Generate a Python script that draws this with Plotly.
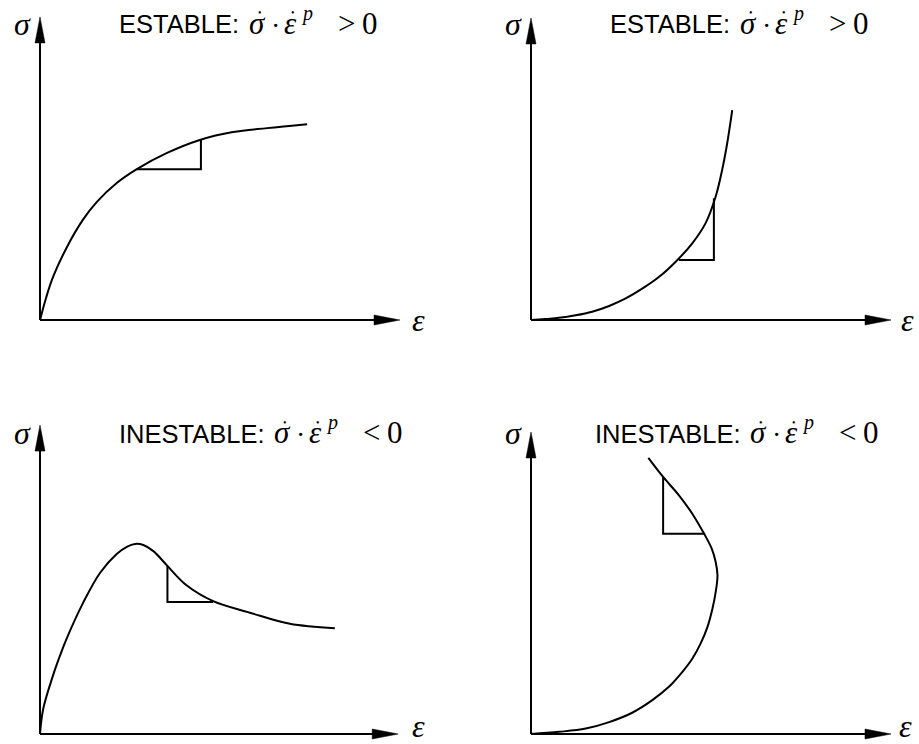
import plotly.graph_objects as go

# --- curve data (strain, stress) in diagram units ---
# top-left: stable hardening, concave
eps_a = [0.0, 0.17, 0.36, 0.75, 1.19, 1.58, 2.14, 2.69, 3.53, 4.44, 5.36, 6.31, 7.42]
sig_a = [0.0, 0.62, 1.19, 2.03, 2.78, 3.28, 3.81, 4.19, 4.64, 5.00, 5.22, 5.33, 5.44]
tri_a_eps = [2.69, 4.47, 4.47]
tri_a_sig = [4.19, 4.19, 5.03]

# top-right: stable hardening, convex
eps_b = [0.0, 0.41, 0.78, 1.24, 1.70, 2.17, 2.63, 3.09, 3.56, 4.02, 4.48, 4.85, 5.13, 5.31, 5.45, 5.59]
sig_b = [0.0, 0.03, 0.06, 0.13, 0.23, 0.39, 0.60, 0.87, 1.20, 1.62, 2.13, 2.69, 3.43, 4.17, 4.91, 5.83]
tri_b_eps = [4.11, 5.08, 5.08]
tri_b_sig = [1.67, 1.67, 3.38]

# bottom-left: softening after the peak
eps_c = [0.0, 0.09, 0.37, 0.56, 0.74, 1.20, 1.67, 2.13, 2.41, 2.64, 2.87, 3.15, 3.52, 4.07, 4.81, 5.83, 6.94, 8.19]
sig_c = [0.0, 0.70, 1.65, 2.19, 2.65, 3.65, 4.48, 5.00, 5.20, 5.28, 5.25, 5.08, 4.69, 4.13, 3.69, 3.37, 3.06, 2.94]
tri_c_eps = [3.54, 3.54, 4.81]
tri_c_sig = [4.67, 3.67, 3.67]

# bottom-right: snap-back
eps_d = [0.0, 0.78, 1.52, 2.17, 2.81, 3.37, 3.83, 4.20, 4.48, 4.71, 4.90, 5.04, 5.13, 5.18,
         5.13, 5.02, 4.81, 4.48, 4.11, 3.67, 3.26]
sig_d = [0.0, 0.06, 0.15, 0.33, 0.59, 0.94, 1.31, 1.72, 2.09, 2.51, 2.97, 3.48, 3.94, 4.41,
         4.78, 5.15, 5.56, 6.12, 6.63, 7.14, 7.67]
tri_d_eps = [3.67, 3.67, 4.81]
tri_d_sig = [7.14, 5.56, 5.56]

titles = ["ESTABLE:", "ESTABLE:", "INESTABLE:", "INESTABLE:"]
relations = ["&gt;", "&gt;", "&lt;", "&lt;"]

panels = [
    (eps_a, sig_a, tri_a_eps, tri_a_sig),
    (eps_b, sig_b, tri_b_eps, tri_b_sig),
    (eps_c, sig_c, tri_c_eps, tri_c_sig),
    (eps_d, sig_d, tri_d_eps, tri_d_sig),
]

# axis arrow extents per panel (strain tip, stress tip)
eps_tip = [10.0, 10.0, 9.95, 10.0]
sig_tip = [8.42, 8.39, 8.58, 8.39]
# title anchor (left edge, centre line) per panel
title_pos = [(2.167, 8.21), (2.167, 8.21), (2.167, 8.34), (1.75, 8.34)]
# axis-symbol positions
sigma_lab = [(-0.49, 8.22), (-0.50, 8.22), (-0.49, 8.35), (-0.50, 8.35)]
eps_lab = [(10.51, 0.0), (10.45, 0.0), (10.51, 0.236), (10.40, 0.236)]

W, H = 919, 744
PX = 36.0  # pixels per diagram unit
origins = [(40, 320), (531, 320), (40, 734), (531, 734)]
xdoms = [(0, 0.5), (0.5, 1), (0, 0.5), (0.5, 1)]
ydoms = [(0.5, 1), (0.5, 1), (0, 0.5), (0, 0.5)]

SERIF = "Liberation Serif"
SANS = "Liberation Sans"
INK = "black"

fig = go.Figure()
layout = dict(
    width=W, height=H, margin=dict(l=0, r=0, t=0, b=0),
    paper_bgcolor="white", plot_bgcolor="rgba(0,0,0,0)",
    showlegend=False,
)
shapes = []
annotations = []


def note(xa, ya, x, y, text, size, family=SERIF, anchor="center"):
    annotations.append(dict(xref=xa, yref=ya, x=x, y=y, text=text, showarrow=False,
                            font=dict(family=family, size=size, color=INK),
                            xanchor=anchor, yanchor="middle", borderpad=0))


for i, (ex, sy, tx, ty) in enumerate(panels):
    k = "" if i == 0 else str(i + 1)
    xa, ya = "x" + k, "y" + k
    ox, oy = origins[i]
    xd, yd = xdoms[i], ydoms[i]
    px0, px1 = xd[0] * W, xd[1] * W
    py_top, py_bot = (1 - yd[1]) * H, (1 - yd[0]) * H
    layout["xaxis" + k] = dict(
        domain=list(xd), range=[(px0 - ox) / PX, (px1 - ox) / PX],
        visible=False, fixedrange=True, anchor=ya,
    )
    layout["yaxis" + k] = dict(
        domain=list(yd), range=[(oy - py_bot) / PX, (oy - py_top) / PX],
        visible=False, fixedrange=True, anchor=xa,
    )

    fig.add_trace(go.Scatter(x=ex, y=sy, mode="lines", xaxis=xa, yaxis=ya,
                             line=dict(color=INK, width=2, shape="spline", smoothing=1.0),
                             hoverinfo="skip"))
    fig.add_trace(go.Scatter(x=tx, y=ty, mode="lines", xaxis=xa, yaxis=ya,
                             line=dict(color=INK, width=2), hoverinfo="skip"))

    # axes with filled arrowheads
    hl, hw = 26 / PX, 5 / PX
    et, st = eps_tip[i], sig_tip[i]
    shapes.append(dict(type="line", xref=xa, yref=ya, x0=0, y0=0, x1=et - hl * 0.8, y1=0,
                       line=dict(color=INK, width=2)))
    shapes.append(dict(type="line", xref=xa, yref=ya, x0=0, y0=0, x1=0, y1=st - hl * 0.8,
                       line=dict(color=INK, width=2)))
    shapes.append(dict(type="path", xref=xa, yref=ya,
                       path=f"M{et},0 L{et - hl},{hw} L{et - hl},{-hw} Z",
                       fillcolor=INK, line=dict(color=INK, width=0.5)))
    shapes.append(dict(type="path", xref=xa, yref=ya,
                       path=f"M0,{st} L{hw},{st - hl} L{-hw},{st - hl} Z",
                       fillcolor=INK, line=dict(color=INK, width=0.5)))

    # axis symbols
    note(xa, ya, sigma_lab[i][0], sigma_lab[i][1], "<i>σ</i>", 32)
    note(xa, ya, eps_lab[i][0], eps_lab[i][1], "<i>ε</i>", 32)

    # stability criterion: label, then  σ̇ · ε̇^p  (>|<)  0
    lx, cy = title_pos[i]
    note(xa, ya, lx, cy, titles[i], 25.5, family=SANS, anchor="left")
    shift = 0 if titles[i] == "ESTABLE:" else 25

    def u(dx):
        return lx + (dx + shift) / PX

    def v(dy):
        return cy - dy / PX

    note(xa, ya, u(139), v(-1), "<i>σ</i>", 31)
    note(xa, ya, u(142), v(-11.5), "•", 10)    # dot over sigma
    note(xa, ya, u(157), v(1), "·", 28)        # product
    note(xa, ya, u(172), v(-1), "<i>ε</i>", 31)
    note(xa, ya, u(175), v(-11.5), "•", 10)    # dot over epsilon
    note(xa, ya, u(189), v(-11), "<i>p</i>", 20)
    note(xa, ya, u(228), v(-1), relations[i], 31)
    note(xa, ya, u(252), v(-1), "0", 31)

layout["shapes"] = shapes
layout["annotations"] = annotations
fig.update_layout(**layout)
fig.write_html("out.html")
